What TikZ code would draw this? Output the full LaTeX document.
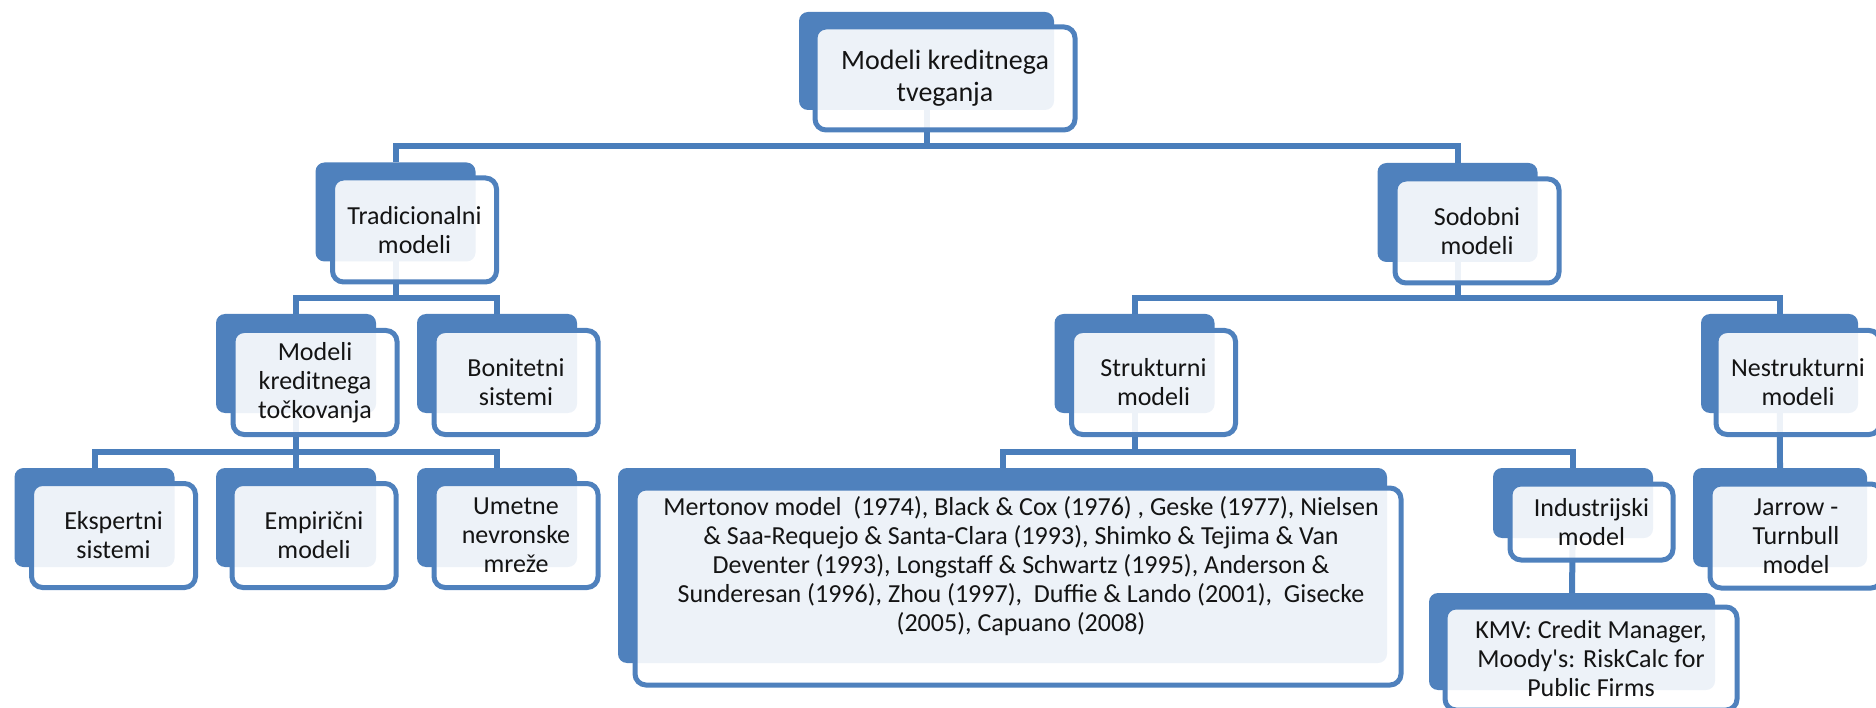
\documentclass[tikz,border=0pt]{standalone}
\usepackage{fontspec}
\setmainfont{Carlito}
\newfontfamily\plainquote{Carlito} % no TeX mapping, keeps the straight apostrophe
\usetikzlibrary{backgrounds}
\definecolor{boxblue}{HTML}{4F81BD}
\definecolor{lineblue}{HTML}{4A7EBB}
\tikzset{
    backbox/.style={fill=boxblue, rounded corners=9pt, inner sep=0pt}, % dark box behind each label
    frontbox/.style={draw=boxblue, line width=5pt, fill=white, fill opacity=0.9, text opacity=1,
        rounded corners=11pt, align=center, inner sep=0pt, text=black!92,
        font=\fontsize{26}{29}\selectfont}, % the light box holding the text
    conn/.style={draw=lineblue, line width=6pt}, % tree connectors
}

\begin{document}
\begin{tikzpicture}[
        x=1pt, y=-1pt,
        smallback/.style={backbox, minimum width=160pt, minimum height=99pt},
        smallfront/.style={frontbox, minimum width=164pt, minimum height=104pt},
    ]
    \useasboundingbox (0,0) rectangle (1876,708);
    \clip (0,0) rectangle (1876,708);

    % level 0
    \node[backbox, minimum width=255pt, minimum height=98pt] (topb) at (926.5,61) {};
    \node[frontbox, minimum width=260pt, minimum height=103pt, font=\fontsize{28}{32}\selectfont] (top) at (945,78.5) {Modeli kreditnega\\tveganja};

    % level 1
    \node[smallback] (tradb) at (395.5,212) {};
    \node[smallfront] (trad) at (414.5,230) {Tradicionalni\\modeli};
    \node[smallback] (sodb) at (1457.5,212.5) {};
    \node[smallfront] (sod) at (1477,231) {Sodobni\\modeli};

    % level 2
    \node[smallback] (modb) at (296,363.5) {};
    \node[smallfront] (mod) at (315,382.5) {Modeli\\kreditnega\\točkovanja};
    \node[smallback] (bonb) at (497,363.5) {};
    \node[smallfront] (bon) at (516,382.5) {Bonitetni\\sistemi};
    \node[smallback] (strb) at (1134.5,363.5) {};
    \node[smallfront] (str) at (1153.5,382.5) {Strukturni\\modeli};
    \node[smallback, minimum width=157pt] (nesb) at (1779.5,363.5) {};
    \node[smallfront] (nes) at (1798,382.5) {Nestrukturni\\modeli};

    % level 3
    \node[smallback] (eksb) at (94.5,517.5) {};
    \node[smallfront] (eks) at (113.5,535.5) {Ekspertni\\sistemi};
    \node[smallback] (empb) at (296,517.5) {};
    \node[smallfront] (emp) at (314,535.5) {Empirični\\modeli};
    \node[smallback] (umeb) at (497,517.5) {};
    \node[smallfront] (ume) at (516,535.5) {Umetne\\nevronske\\mreže};
    \node[backbox, minimum width=769pt, minimum height=195pt] (merb) at (1002.5,565.5) {};
    \node[frontbox, minimum width=766pt, minimum height=197pt] (mer) at (1018,586.5) {};
    \node[align=center, text=black!92, font=\fontsize{26}{29}\selectfont] (mertext) at (1021,566)
        {Mertonov model\ \ (1974), Black \& Cox (1976) , Geske (1977), Nielsen\\
         \& Saa-Requejo \& Santa-Clara (1993), Shimko \& Tejima \& Van\\
         Deventer (1993), Longstaff \& Schwartz (1995), Anderson \&\\
         Sunderesan (1996), Zhou (1997),\ \ Duffie \& Lando (2001),\ \ Gisecke\\
         (2005), Capuano (2008)};
    \node[backbox, minimum width=160pt, minimum height=70pt] (indb) at (1573,503) {};
    \node[frontbox, minimum width=163pt, minimum height=76pt] (ind) at (1591.5,522) {Industrijski\\model};
    \node[smallback, minimum width=174pt] (jarb) at (1780,517.5) {};
    \node[smallfront, minimum width=172pt] (jar) at (1796,536) {Jarrow -\\Turnbull\\model};

    % level 4
    \node[backbox, minimum width=286pt, minimum height=97pt] (kmvb) at (1572,641.5) {};
    \node[frontbox, minimum width=292pt, minimum height=103pt] (kmv) at (1591,658.5) {KMV: Credit Manager,\\Moody{\plainquote'}s: RiskCalc for\\Public Firms};

    % connectors, under the boxes
    \coordinate (bus1) at (0,146);
    \coordinate (bus2) at (0,298);
    \coordinate (bus3) at (0,452);
    \begin{scope}[on background layer]
        \foreach \c in {tradb, sodb}
            \draw[conn] (topb.center) |- (bus1 -| \c.north) -- (\c.north);
        \foreach \c in {modb, bonb}
            \draw[conn] (tradb.center) |- (bus2 -| \c.north) -- (\c.north);
        \foreach \c in {strb, nesb}
            \draw[conn] (sodb.center) |- (bus2 -| \c.north) -- (\c.north);
        \foreach \c in {eksb, empb, umeb}
            \draw[conn] (modb.center) |- (bus3 -| \c.north) -- (\c.north);
        \foreach \c in {merb, indb}
            \draw[conn] (strb.center) |- (bus3 -| \c.north) -- (\c.north);
        \draw[conn] (nesb.center) -- (jarb.north);
        \draw[conn] (indb.center) -- (kmvb.north);
    \end{scope}
\end{tikzpicture}
\end{document}
